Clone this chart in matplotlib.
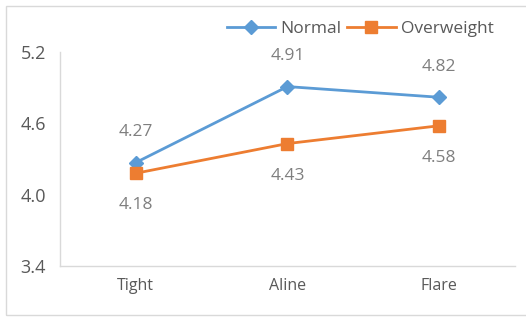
import matplotlib.pyplot as plt
from matplotlib.patches import Rectangle

categories = ["Tight", "Aline", "Flare"]
normal = [4.27, 4.91, 4.82]
overweight = [4.18, 4.43, 4.58]
yticks = [3.4, 4.0, 4.6, 5.2]

plt.rcParams['font.family'] = ['Open Sans', 'DejaVu Sans']

fig = plt.figure(figsize=(5.26, 3.18), dpi=100)
ax = fig.add_axes([0.114, 0.164, 0.865, 0.672])

x = range(len(categories))
ax.plot(x, normal, color='#5B9BD5', lw=2, marker='D', ms=7, label='Normal')
ax.plot(x, overweight, color='#ED7D31', lw=2, marker='s', ms=8, label='Overweight')

for i, v in enumerate(normal):
    ax.annotate(f"{v:.2f}", (i, v), xytext=(0, 22), textcoords='offset points',
                ha='center', va='center', fontsize=12.5, color='#7F7F7F')
for i, v in enumerate(overweight):
    ax.annotate(f"{v:.2f}", (i, v), xytext=(0, -23), textcoords='offset points',
                ha='center', va='center', fontsize=12.5, color='#7F7F7F')

ax.set_xlim(-0.5, 2.5)
ax.set_ylim(3.4, 5.2)
ax.set_yticks(yticks)
ax.set_yticklabels([f"{t:.1f}" for t in yticks])
ax.set_xticks(list(x))
ax.set_xticklabels(categories)
ax.tick_params(length=0, colors='#595959', labelsize=13)
ax.tick_params(axis='y', pad=10)
ax.tick_params(axis='x', pad=9)
for lab in ax.get_xticklabels():
    lab.set_fontsize(11.5)

for s in ['top', 'right']:
    ax.spines[s].set_visible(False)
for s in ['left', 'bottom']:
    ax.spines[s].set_color('#D9D9D9')
    ax.spines[s].set_linewidth(1)

fig.legend(loc='center', bbox_to_anchor=(0.685, 0.91), ncol=2, frameon=False,
           fontsize=12.5, handlelength=2.8, columnspacing=0.3, handletextpad=0.3,
           labelcolor='#595959')

fig.patches.append(Rectangle((0.012, 0.008), 1.2, 0.972, transform=fig.transFigure,
                             fill=False, edgecolor='#D9D9D9', lw=1))

fig.savefig('out.png', dpi=100)
